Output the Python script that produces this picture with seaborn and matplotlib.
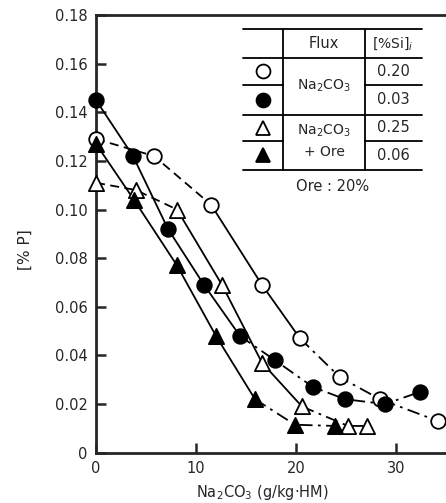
import numpy as np
import pandas as pd
import matplotlib
matplotlib.use("Agg")
import matplotlib.pyplot as plt
from matplotlib.lines import Line2D
import seaborn as sns

# data: Na2CO3 (g/kg-HM) vs [%P]
oc_x = [0, 5.8, 11.5, 16.6, 20.4, 24.4, 28.4, 34.2]
oc_y = [0.129, 0.122, 0.102, 0.069, 0.047, 0.031, 0.022, 0.013]
fc_x = [0, 3.7, 7.2, 10.8, 14.4, 17.9, 21.7, 24.9, 28.9, 32.4]
fc_y = [0.145, 0.122, 0.092, 0.069, 0.048, 0.038, 0.027, 0.022, 0.020, 0.025]
ot_x = [0, 4.0, 8.1, 12.6, 16.6, 20.6, 25.2, 27.1]
ot_y = [0.111, 0.108, 0.100, 0.069, 0.037, 0.019, 0.011, 0.011]
ft_x = [0, 3.8, 8.1, 12.0, 15.9, 19.9, 23.9]
ft_y = [0.127, 0.104, 0.077, 0.048, 0.022, 0.0115, 0.011]

flux_labels = ["Na$_2$CO$_3$", "Na$_2$CO$_3$\n+ Ore"]
si_values = ["0.20", "0.03", "0.25", "0.06"]
x_ticks = [0, 10, 20, 30]
y_ticks = [0, 0.02, 0.04, 0.06, 0.08, 0.10, 0.12, 0.14, 0.16, 0.18]

sns.set_style("ticks")
plt.rcParams['font.family'] = ['DejaVu Sans']

DASH = (0, (5, 3))
DASHDOT = (0, (7, 3, 1.5, 3))

# (name, x, y, marker, face, segments as (i0, i1, style))
series = [
    ("open circle", oc_x, oc_y, "o", "white",
     [(0, 2, DASH), (2, 4, "-"), (4, 7, DASHDOT)]),
    ("filled circle", fc_x, fc_y, "o", "black",
     [(0, 4, "-"), (4, 9, DASHDOT)]),
    ("open triangle", ot_x, ot_y, "^", "white",
     [(0, 2, DASH), (2, 5, "-"), (5, 7, DASHDOT)]),
    ("filled triangle", ft_x, ft_y, "^", "black",
     [(0, 4, "-"), (4, 6, DASHDOT)]),
]

W, H = 446, 503
fig = plt.figure(figsize=(W / 100, H / 100), dpi=100)
ax = fig.add_axes([96 / W, 1 - 452.7 / H, 1 - 96 / W, (452.7 - 15) / H])

for name, xs, ys, mk, face, segs in series:
    df = pd.DataFrame({"x": xs, "y": ys})
    for i0, i1, ls in segs:
        part = df.iloc[i0:i1 + 1]
        sns.lineplot(data=part, x="x", y="y", sort=False, ax=ax,
                     color="black", lw=1.3, linestyle=ls, zorder=2)
    marker_size = 110 if mk == "o" else 120
    sns.scatterplot(data=df, x="x", y="y", marker=mk, s=marker_size, ax=ax,
                    facecolor=face, edgecolor="black", linewidth=1.3,
                    zorder=3, clip_on=False)

ax.set_xlim(0, 35)
ax.set_ylim(0, 0.18)
ax.set_xticks(x_ticks)
ax.set_xticklabels([str(t) for t in x_ticks])
ax.set_yticks(y_ticks)
ax.set_yticklabels(["0"] + [f"{t:.2f}" for t in y_ticks[1:]])
ax.tick_params(direction="in", length=7, width=1.8, labelsize=10.5, pad=6)
for side in ["left", "bottom", "top"]:
    ax.spines[side].set_linewidth(2)
ax.spines["right"].set_visible(False)
ax.set_xlabel("")
ax.set_ylabel("")

fig.text(25 / W, 1 - 250 / H, "[% P]", rotation=90, ha="center", va="center",
         fontsize=11)
fig.text(262 / W, 1 - 492 / H, "Na$_2$CO$_3$ (g/kg·HM)", ha="center",
         va="center", fontsize=10.5)


# inset table, drawn in figure pixel coordinates
def fp(x, y):
    return x / W, 1 - y / H


def hline(x0, x1, y):
    (a, b), (c, d) = fp(x0, y), fp(x1, y)
    fig.add_artist(Line2D([a, c], [b, d], color="black", lw=1.3))


def vline(x, y0, y1):
    (a, b), (c, d) = fp(x, y0), fp(x, y1)
    fig.add_artist(Line2D([a, c], [b, d], color="black", lw=1.3))


L, C1, C2, R = 243, 283, 365, 422
hline(L, R, 29)
hline(L, R, 58)
hline(L, C1, 85)
hline(C2, R, 85)
hline(L, R, 115)
hline(L, C1, 141)
hline(C2, R, 141)
hline(L, R, 170)
vline(C1, 29, 170)
vline(C2, 29, 170)

row_y = [71, 100, 128, 155]
keys = [("o", "white"), ("o", "black"), ("^", "white"), ("^", "black")]
for (mk, face), ry, val in zip(keys, row_y, si_values):
    mx, my = fp(263, ry)
    fig.add_artist(Line2D([mx], [my], marker=mk, markersize=10 if mk == "o" else 10.5,
                          markerfacecolor=face, markeredgecolor="black",
                          markeredgewidth=1.3, linestyle="none"))
    tx, ty = fp(393, ry)
    fig.text(tx, ty, val, ha="center", va="center", fontsize=10.5)

fig.text(*fp(324, 44), "Flux", ha="center", va="center", fontsize=10.5)
fig.text(*fp(393, 44), "[%Si]$_i$", ha="center", va="center", fontsize=10)
fig.text(*fp(324, 86), flux_labels[0], ha="center", va="center", fontsize=10)
fig.text(*fp(324, 141), flux_labels[1], ha="center", va="center", fontsize=10,
         linespacing=1.6)
fig.text(*fp(333, 186), "Ore : 20%", ha="center", va="center", fontsize=10.5)

fig.savefig("out.png", dpi=100)
